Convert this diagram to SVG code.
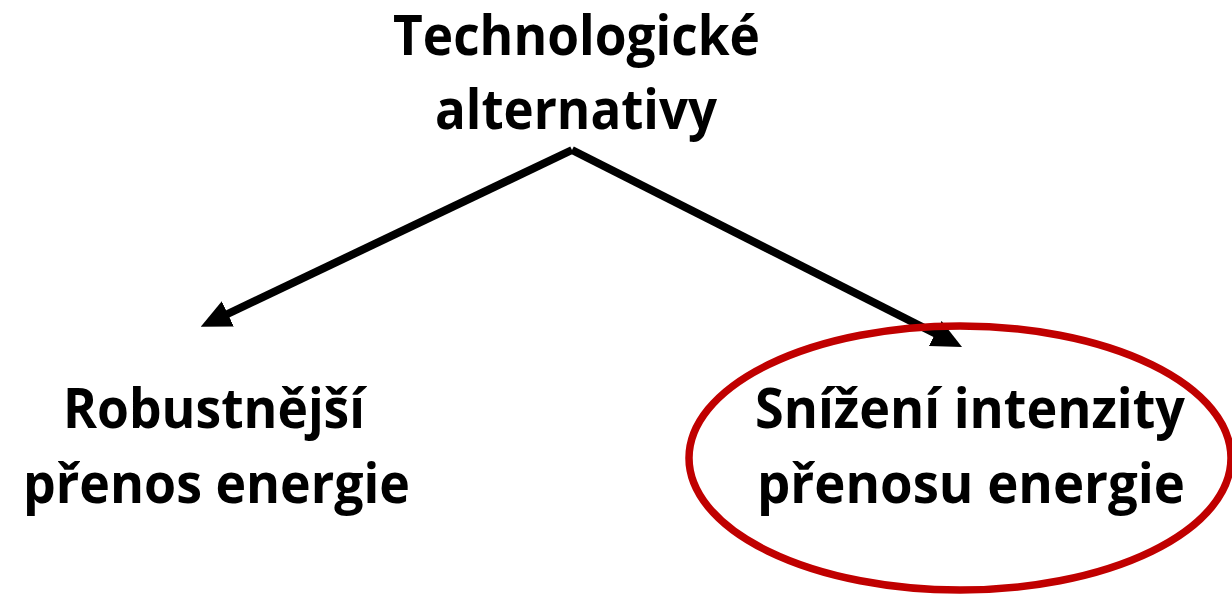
<svg xmlns="http://www.w3.org/2000/svg" width="1232" height="595" viewBox="0 0 1232 595">
  <style>
    .lbl { font-family: "Open Sans", Lato, "Liberation Sans", sans-serif; font-weight: bold; font-size: 56px; fill: #000; font-variant-ligatures: none; }
    .conn { stroke: #000; stroke-width: 8; fill: none; stroke-linejoin: miter; }
  </style>
  <defs>
    <marker id="arrow" markerUnits="userSpaceOnUse" viewBox="0 0 30 28" markerWidth="30" markerHeight="28" refX="5" refY="14" orient="auto">
      <path d="M0,0 L30,14 L0,28 z" fill="#000"/>
    </marker>
  </defs>
  <rect width="1232" height="595" fill="#fff"/>
  <g id="connectors">
    <line class="conn" x1="572" y1="150" x2="223.3" y2="316" marker-end="url(#arrow)"/>
    <line class="conn" x1="572" y1="150" x2="939.7" y2="335.7" marker-end="url(#arrow)"/>
  </g>
  <g id="node-root">
    <text class="lbl" x="393" y="55" textLength="367" lengthAdjust="spacingAndGlyphs">Technologické</text>
    <text class="lbl" x="435" y="129" textLength="282" lengthAdjust="spacingAndGlyphs">alternativy</text>
  </g>
  <g id="node-left">
    <text class="lbl" x="63" y="428" textLength="302" lengthAdjust="spacingAndGlyphs">Robustnější</text>
    <text class="lbl" x="23" y="503" textLength="387" lengthAdjust="spacingAndGlyphs">přenos energie</text>
  </g>
  <g id="node-right">
    <ellipse cx="960" cy="458" rx="271" ry="132" fill="none" stroke="#C00000" stroke-width="7.5"/>
    <text class="lbl" x="755" y="428" textLength="430" lengthAdjust="spacingAndGlyphs">Snížení intenzity</text>
    <text class="lbl" x="757" y="503" textLength="428" lengthAdjust="spacingAndGlyphs">přenosu energie</text>
  </g>
</svg>
